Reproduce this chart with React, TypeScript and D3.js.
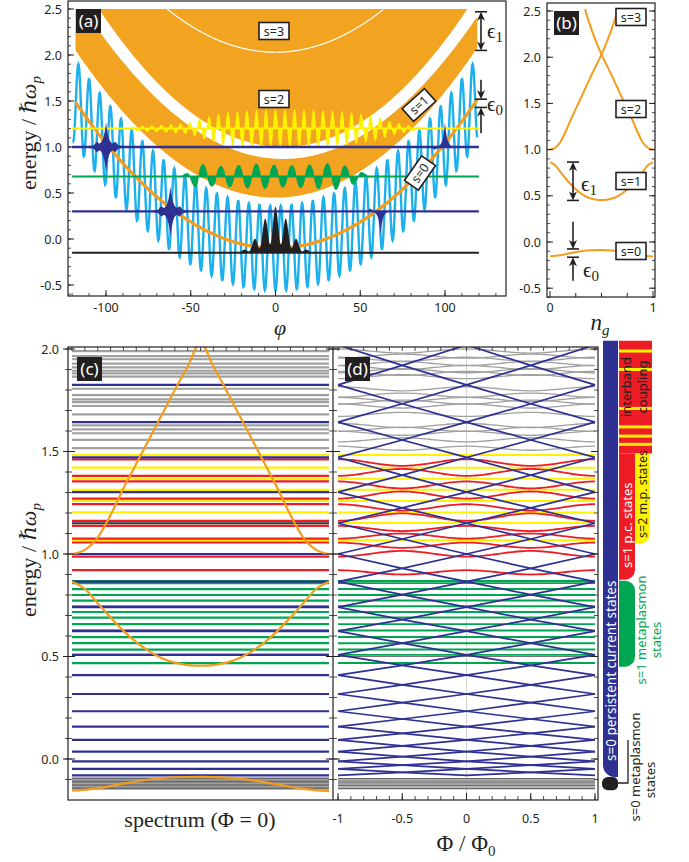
import React from 'react';
import * as d3 from 'd3';

const NAVY = '#2e3192';
const BAND = '#f2a31f';
const ORANGE = '#f39c1e';
const CYAN = '#1cb1ec';
const YELLOW = '#fff200';
const GREEN = '#00a651';
const RED = '#ee1d25';
const GRAY = '#a0a0a0';
const DARKGRAY = '#6a6a6a';
const INK = '#231f20';
const SERIF = "'Liberation Serif', 'DejaVu Serif', serif";
const SANS = "'Noto Sans', 'Open Sans', 'Liberation Sans', sans-serif";

// ---------- (a) potential landscape ----------
const phiTicks = [-100, -50, 0, 50, 100];
const energyTicksTop = [-0.5, 0, 0.5, 1, 1.5, 2, 2.5];
const parabola = { bottom: -0.1, curvature: 1.14e-4 };
const ripple = 0.46; // josephson ripple on top of the parabola
const bandBottoms = [0.45, 1.0, 2.03]; // s=1, s=2, s=3 at phi = 0
const bandCurvatures = [1.15e-4, 1.27e-4, 1.15e-4];
const s1Top = { value: 0.87, curvature: 1.18e-4 };
const gapCenter = 4.5;
const bandTop = 2.5;
const phiRange = [-118, 119];

const levelsTop = [
  { E: 1.2, color: YELLOW, w: 2 },
  { E: 0.68, color: GREEN, w: 2 },
  { E: -0.15, color: INK, w: 2 },
  { E: 0.3, color: NAVY, w: 2.4 },
  { E: 1.0, color: NAVY, w: 2.4 },
];
const groundPacket = { E: -0.15, amp: 0.5, width: 8 };
const packets = [
  { phi: -62, E: 0.3, amp: 0.26, shape: 'star' },
  { phi: 62, E: 0.3, amp: -0.25, shape: 'spike' },
  { phi: -100, E: 1.0, amp: 0.26, shape: 'star' },
  { phi: 100, E: 1.0, amp: 0.27, shape: 'spike' },
];
const greenEnvelope = [[-57, 0], [-52, 0.04], [-46, 0.15], [-38, 0.11], [-25, 0.12], [-10, 0.14], [5, 0.12], [20, 0.13], [35, 0.15], [45, 0.1], [52, 0.04], [57, 0]];
const yellowEnvelope = [[-90, 0], [-82, 0.03], [-65, 0.045], [-52, 0.06], [-42, 0.12], [-30, 0.18], [-10, 0.21], [15, 0.21], [40, 0.19], [58, 0.14], [68, 0.08], [80, 0.03], [90, 0.01], [95, 0]];

// ---------- (b) bands vs n_g ----------
const ngS0 = [[0, -0.155], [0.1, -0.143], [0.2, -0.12], [0.3, -0.1], [0.4, -0.089], [0.5, -0.087], [0.6, -0.091], [0.7, -0.104], [0.8, -0.124], [0.9, -0.146], [1, -0.157]];
const ngS1 = [[0, 0.865], [0.05, 0.83], [0.1, 0.76], [0.15, 0.69], [0.2, 0.625], [0.25, 0.57], [0.3, 0.525], [0.35, 0.492], [0.4, 0.47], [0.45, 0.458], [0.5, 0.455], [0.55, 0.458], [0.6, 0.47], [0.65, 0.492], [0.7, 0.525], [0.75, 0.57], [0.8, 0.625], [0.85, 0.69], [0.9, 0.76], [0.95, 0.83], [1, 0.865]];
const ngS2 = [[0, 1.0], [0.05, 1.02], [0.1, 1.08], [0.15, 1.19], [0.2, 1.32], [0.25, 1.44], [0.3, 1.56], [0.35, 1.68], [0.4, 1.8], [0.45, 1.915], [0.5, 2.03], [0.55, 2.16], [0.6, 2.31], [0.65, 2.48], [0.66, 2.52]];

// ---------- (c)/(d) spectrum ----------
const metaplasmonS0 = [-0.096, -0.104, -0.112, -0.12, -0.128, -0.136, -0.144];
// s=0 persistent current energies at |m + Phi| = 0, 0.5, 1, 1.5, ...
const persistentS0 = [
  -0.08, -0.065, -0.048, -0.03, -0.012, 0.012, 0.036, 0.064, 0.093, 0.125,
  0.158, 0.195, 0.233, 0.275, 0.317, 0.362, 0.409, 0.457, 0.508, 0.565,
  0.624, 0.68, 0.741, 0.802, 0.865, 0.93, 1.0, 1.073, 1.15, 1.225,
  1.302, 1.385, 1.471, 1.556, 1.643, 1.733, 1.825, 1.92, 2.02, 2.12,
];
const metaplasmonS1 = [0.468, 0.508, 0.534, 0.565, 0.595, 0.627, 0.658, 0.69, 0.717, 0.745, 0.773, 0.8, 0.829, 0.858, 0.868];
const pcS1AtZero = [0.921, 0.987, 1.056, 1.075, 1.137, 1.162, 1.243, 1.27, 1.354, 1.381, 1.462];
const pcS1AtHalf = [0.9, 1.015, 1.03, 1.1, 1.112, 1.198, 1.212, 1.305, 1.32, 1.415, 1.43];
const metaplasmonS2 = [1.067, 1.151, 1.203, 1.259, 1.313, 1.367, 1.421, 1.483];
const couplingLevels = [1.516, 1.557, 1.589, 1.608, 1.627, 1.681, 1.722, 1.741, 1.754, 1.775, 1.806, 1.865, 1.881, 1.894, 1.91, 1.929, 1.95, 1.965, 1.99];
const couplingStripes = [1.99, 1.9, 1.71, 1.62, 1.575, 1.535];
const spectrumTicks = [0, 0.5, 1, 1.5, 2];
const fluxTicks = [-1, -0.5, 0, 0.5, 1];

// scales
const xA = d3.scaleLinear().domain([-100, 100]).range([106, 445]);
const yA = d3.scaleLinear().domain([0, 2.5]).range([239, 9]);
const xB = d3.scaleLinear().domain([0, 1]).range([550, 653]);
const yB = d3.scaleLinear().domain([0, 2.5]).range([242, 11]);
const xC = d3.scaleLinear().domain([0, 1]).range([72, 329]);
const yC = d3.scaleLinear().domain([0, 2]).range([759, 349]);
const xD = d3.scaleLinear().domain([-1, 1]).range([338, 595]);

const fmt = (v: number) => (Number.isInteger(v) ? v.toFixed(1) : String(v));
const fmtX = (v: number) => String(v);
// fuller lobes for the filled wavefunctions
const lobe = (c: number) => Math.sign(c) * Math.pow(Math.abs(c), 0.6);

function barPath(x0: number, x1: number, y0: number, y1: number, r: number[]) {
  const [tl, tr, br, bl] = r;
  return `M${x0 + tl},${y0} H${x1 - tr} ${tr ? `A${tr},${tr} 0 0 1 ${x1},${y0 + tr}` : ''} V${y1 - br} ${br ? `A${br},${br} 0 0 1 ${x1 - br},${y1}` : ''} H${x0 + bl} ${bl ? `A${bl},${bl} 0 0 1 ${x0},${y1 - bl}` : ''} V${y0 + tl} ${tl ? `A${tl},${tl} 0 0 1 ${x0 + tl},${y0}` : ''} Z`;
}

const Arrow = ({ x, from, to }: { x: number; from: number; to: number }) => {
  const dir = Math.sign(to - from);
  return (
    <g>
      <line x1={x} x2={x} y1={from} y2={to - dir * 6} stroke={INK} strokeWidth={1.6} />
      <path d={`M${x - 4},${to - dir * 9} L${x},${to} L${x + 4},${to - dir * 9} L${x},${to - dir * 6.5} Z`} fill={INK} />
    </g>
  );
};
const Cap = ({ x, y }: { x: number; y: number }) => (
  <line x1={x - 6} x2={x + 6} y1={y} y2={y} stroke={INK} strokeWidth={1.6} />
);
const Eps = ({ x, y, sub }: { x: number; y: number; sub: string }) => (
  <text x={x} y={y} fontFamily={SERIF} fontSize={21} fill={INK}>
    ϵ<tspan fontSize={15} dy={4}>{sub}</tspan>
  </text>
);
const PanelTag = ({ x, y, label }: { x: number; y: number; label: string }) => (
  <g>
    <rect x={x} y={y} width={25} height={24} fill={INK} />
    <text x={x + 12.5} y={y + 17.5} textAnchor="middle" fontFamily={SANS} fontSize={17} fill="#fff">{label}</text>
  </g>
);
const BoxLabel = ({ x, y, label, rot = 0 }: { x: number; y: number; label: string; rot?: number }) => (
  <g transform={`translate(${x},${y}) rotate(${rot})`}>
    <rect x={-15} y={-8.5} width={30} height={17} fill="#fff" stroke={INK} strokeWidth={1.6} />
    <text x={0} y={4.5} textAnchor="middle" fontFamily={SANS} fontSize={12.5} fill={INK}>{label}</text>
  </g>
);

export default function App() {
  // ---- panel (a)
  const potential = (p: number) => parabola.bottom + parabola.curvature * p * p - ripple * Math.cos(p);
  const potentialPath = d3.line<number>().x((p) => xA(p)).y((p) => yA(potential(p)))(d3.range(-119.5, 119.01, 0.2));
  const bandGrid = d3.range(phiRange[0], phiRange[1] + 0.01, 0.5);
  const parabolaPath = d3.line<number>().x((p) => xA(p)).y((p) => yA(parabola.bottom + parabola.curvature * p * p))(bandGrid);
  const edge = (E0: number, k: number, c = 0) => (p: number) => Math.min(E0 + k * (p - c) * (p - c), bandTop);
  const s1Lower = edge(bandBottoms[0], bandCurvatures[0]);
  const s1Upper = edge(s1Top.value, s1Top.curvature, gapCenter);
  const s2Lower = edge(bandBottoms[1], bandCurvatures[1], gapCenter);
  const s1Band = d3.area<number>().x((p) => xA(p)).y0((p) => yA(s1Lower(p))).y1((p) => yA(s1Upper(p)))(bandGrid);
  const s2Band = d3.area<number>().x((p) => xA(p)).y0((p) => yA(s2Lower(p))).y1(yA(bandTop))(bandGrid);
  const s3Reach = Math.sqrt((bandTop - bandBottoms[2]) / bandCurvatures[2]);
  const s3Path = d3.line<number>().x((p) => xA(p)).y((p) => yA(bandBottoms[2] + bandCurvatures[2] * p * p))(d3.range(-s3Reach, s3Reach + 0.01, 0.5));

  const envScale = (pts: number[][]) => d3.scaleLinear().domain(pts.map((d) => d[0])).range(pts.map((d) => d[1])).clamp(true);
  const greenEnv = envScale(greenEnvelope);
  const yellowEnv = envScale(yellowEnvelope);
  const fillAbout = (E: number, psi: (p: number) => number, grid: number[]) =>
    d3.area<number>().x((p) => xA(p)).y0(yA(E)).y1((p) => yA(E + psi(p)))(grid);
  const greenFill = fillAbout(0.68, (p) => greenEnv(p) * lobe(Math.cos(0.6 * p + 0.5)), d3.range(-57, 57.01, 0.1));
  const yellowFill = fillAbout(1.2, (p) => yellowEnv(p) * lobe(Math.cos(1.12 * p)), d3.range(-90, 95.01, 0.1));
  const groundFill = fillAbout(groundPacket.E, (p) => groundPacket.amp * Math.exp(-(p * p) / (2 * groundPacket.width * groundPacket.width)) * (0.6 + 0.4 * Math.cos(p)), d3.range(-26, 26.01, 0.1));
  const packetPaths = packets.map((pk) => {
    const grid = d3.range(pk.phi - 10, pk.phi + 10.01, 0.05);
    if (pk.shape === 'star') {
      const e = (p: number) => {
        const d = Math.abs(p - pk.phi);
        return pk.amp * Math.exp(-d / 1.5) + 0.035 * Math.exp(-((d - 5.5) ** 2) / (2 * 0.9 * 0.9)) + 0.012;
      };
      return d3.area<number>().x((p) => xA(p)).y0((p) => yA(pk.E - e(p))).y1((p) => yA(pk.E + e(p)))(grid);
    }
    const s = (p: number) => {
      const d = p - pk.phi;
      return pk.amp * Math.exp(-Math.abs(d) / 1.2) - Math.sign(pk.amp) * 0.03 * Math.exp(-((d + 6) ** 2) / 2);
    };
    return fillAbout(pk.E, s, grid);
  });

  // ---- panel (b)
  const ngLine = (xs: any, ys: any) => d3.line<number[]>().x((d) => xs(d[0])).y((d) => ys(d[1])).curve(d3.curveMonotoneX);
  const mirror = (pts: number[][]) => pts.map((d) => [1 - d[0], d[1]]).reverse();

  // ---- panel (c)
  const s2Lower_c = [...ngS2.filter((d) => d[0] <= 0.5), ...mirror(ngS2).filter((d) => d[0] > 0.5)];
  const levelLine = (E: number) => `M${xC(0)},${yC(E)} H${xC(1)}`;
  const cLevels = [
    ...metaplasmonS0.map((E, i) => ({ E, color: i % 2 ? GRAY : DARKGRAY })),
    ...couplingLevels.map((E) => ({ E, color: GRAY })),
    ...metaplasmonS1.map((E) => ({ E, color: GREEN })),
    ...metaplasmonS2.map((E) => ({ E, color: YELLOW })),
    ...pcS1AtZero.map((E) => ({ E, color: RED })),
    ...persistentS0.filter((_, i) => i % 2 === 0).map((E) => ({ E, color: NAVY })),
  ];

  // ---- panel (d)
  const fluxGrid = d3.range(-1, 1.0001, 0.025);
  const fluxLine = d3.line<number[]>().x((d) => xD(d[0])).y((d) => yC(d[1]));
  const fluxSmooth = d3.line<number[]>().x((d) => xD(d[0])).y((d) => yC(d[1])).curve(d3.curveBasis);
  const knots = [-1, -0.5, 0, 0.5, 1];
  const blueLines = d3.range(-20, 21).map((m) =>
    knots
      .map((f) => {
        const idx = Math.round(2 * Math.abs(m + f));
        return idx < persistentS0.length ? [f, persistentS0[idx]] : null;
      })
      .filter((d) => d !== null) as number[][]
  ).filter((l) => l.length > 1);
  const redLines = pcS1AtZero.map((a, i) => {
    const b = pcS1AtHalf[i];
    return fluxGrid.map((f) => [f, (a + b) / 2 + ((a - b) / 2) * Math.cos(2 * Math.PI * f)]);
  });
  const grayLines = couplingLevels.map((g, i) => fluxGrid.map((f) => [f, g + (i % 2 ? -1 : 1) * 0.01 * Math.cos(2 * Math.PI * f)]));

  const minorE = d3.range(-0.1, 2.01, 0.1);
  const minorTop = d3.range(-0.6, 2.51, 0.1);

  return (
    <svg width={689} height={862} style={{ position: 'absolute', left: 0, top: 0, background: '#fff' }}>
      <defs>
        <clipPath id="clipA"><rect x={68} y={1} width={438} height={295} /></clipPath>
        <clipPath id="clipB"><rect x={547} y={3} width={108} height={294} /></clipPath>
        <clipPath id="clipC"><rect x={68} y={347} width={265} height={453} /></clipPath>
        <clipPath id="clipD"><rect x={333} y={347} width={265} height={453} /></clipPath>
      </defs>

      {/* ================= (a) ================= */}
      <g clipPath="url(#clipA)">
        <path d={s1Band!} fill={BAND} />
        <path d={s2Band!} fill={BAND} />
        <path d={s3Path!} fill="none" stroke="#fff" strokeWidth={1.2} />
        <path d={potentialPath!} fill="none" stroke={CYAN} strokeWidth={2.4} />
        <path d={parabolaPath!} fill="none" stroke={ORANGE} strokeWidth={3.2} />
        <path d={yellowFill!} fill={YELLOW} />
        <path d={greenFill!} fill={GREEN} />
        <path d={groundFill!} fill={INK} />
        {levelsTop.map((l, i) => (
          <line key={i} x1={xA(-120)} x2={xA(120)} y1={yA(l.E)} y2={yA(l.E)} stroke={l.color} strokeWidth={l.w} />
        ))}
        {packetPaths.map((d, i) => <path key={i} d={d!} fill={NAVY} />)}
      </g>
      <BoxLabel x={274} y={31} label="s=3" />
      <BoxLabel x={274} y={99} label="s=2" />
      <BoxLabel x={419} y={105} label="s=1" rot={-42} />
      <BoxLabel x={420} y={173} label="s=0" rot={-55} />
      <PanelTag x={76} y={9} label="(a)" />
      {/* epsilon markers (a) */}
      <Cap x={481} y={yA(2.47)} />
      <Cap x={481} y={yA(2.05)} />
      <Arrow x={481} from={(yA(2.47) + yA(2.05)) / 2} to={yA(2.47)} />
      <Arrow x={481} from={(yA(2.47) + yA(2.05)) / 2} to={yA(2.05)} />
      <Eps x={487} y={38} sub="1" />
      <Cap x={481} y={yA(1.52)} />
      <Cap x={481} y={yA(1.43)} />
      <Arrow x={481} from={yA(1.73)} to={yA(1.52)} />
      <Arrow x={481} from={yA(1.15)} to={yA(1.43)} />
      <Eps x={487} y={111} sub="0" />

      <rect x={68} y={1} width={438} height={295} fill="none" stroke={INK} strokeWidth={1.2} />
      {minorTop.map((v, i) => (
        <line key={'amy' + i} x1={68} x2={71} y1={yA(v)} y2={yA(v)} stroke={INK} strokeWidth={0.8} />
      ))}
      {energyTicksTop.map((v) => (
        <g key={'ay' + v}>
          <line x1={68} x2={74} y1={yA(v)} y2={yA(v)} stroke={INK} strokeWidth={1} />
          <text x={62} y={yA(v) + 4.5} textAnchor="end" fontFamily={SANS} fontSize={12.5} fill={INK}>{fmt(v)}</text>
        </g>
      ))}
      {d3.range(-120, 131, 10).map((v) => (
        <line key={'amx' + v} x1={xA(v)} x2={xA(v)} y1={296} y2={293} stroke={INK} strokeWidth={0.8} />
      ))}
      {phiTicks.map((v) => (
        <g key={'ax' + v}>
          <line x1={xA(v)} x2={xA(v)} y1={296} y2={290} stroke={INK} strokeWidth={1} />
          <text x={xA(v)} y={312} textAnchor="middle" fontFamily={SANS} fontSize={12.5} fill={INK}>{fmtX(v)}</text>
        </g>
      ))}
      <text transform="translate(36,133) rotate(-90)" textAnchor="middle" fontFamily={SERIF} fontSize={22} fill={INK}>
        energy / <tspan fontStyle="italic">ℏω</tspan><tspan fontStyle="italic" fontSize={15} dy={5}>p</tspan>
      </text>
      <text x={280} y={335} textAnchor="middle" fontFamily={SERIF} fontStyle="italic" fontSize={22} fill={INK}>φ</text>

      {/* ================= (b) ================= */}
      <g clipPath="url(#clipB)">
        {[ngS0, ngS1, ngS2, mirror(ngS2)].map((pts, i) => (
          <path key={i} d={ngLine(xB, yB)(pts)!} fill="none" stroke={ORANGE} strokeWidth={2} />
        ))}
      </g>
      <BoxLabel x={631} y={17} label="s=3" />
      <BoxLabel x={631} y={109} label="s=2" />
      <BoxLabel x={631} y={181} label="s=1" />
      <BoxLabel x={631} y={251} label="s=0" />
      <PanelTag x={554} y={11} label="(b)" />
      <Cap x={573} y={yB(0.865)} />
      <Cap x={573} y={yB(0.45)} />
      <Arrow x={573} from={(yB(0.865) + yB(0.45)) / 2} to={yB(0.865)} />
      <Arrow x={573} from={(yB(0.865) + yB(0.45)) / 2} to={yB(0.45)} />
      <Eps x={581} y={191} sub="1" />
      <Cap x={573} y={yB(-0.075)} />
      <Cap x={573} y={yB(-0.165)} />
      <Arrow x={573} from={yB(0.22)} to={yB(-0.075)} />
      <Arrow x={573} from={yB(-0.42)} to={yB(-0.165)} />
      <Eps x={583} y={277} sub="0" />
      <rect x={547} y={3} width={108} height={294} fill="none" stroke={INK} strokeWidth={1.2} />
      {minorTop.map((v, i) => (
        <g key={'bmy' + i}>
          <line x1={547} x2={550} y1={yB(v)} y2={yB(v)} stroke={INK} strokeWidth={0.8} />
          <line x1={655} x2={652} y1={yB(v)} y2={yB(v)} stroke={INK} strokeWidth={0.8} />
        </g>
      ))}
      {energyTicksTop.map((v) => (
        <g key={'by' + v}>
          <line x1={547} x2={553} y1={yB(v)} y2={yB(v)} stroke={INK} strokeWidth={1} />
          <line x1={655} x2={649} y1={yB(v)} y2={yB(v)} stroke={INK} strokeWidth={1} />
          <text x={541} y={yB(v) + 4.5} textAnchor="end" fontFamily={SANS} fontSize={12.5} fill={INK}>{fmt(v)}</text>
        </g>
      ))}
      {d3.range(0, 1.01, 0.25).map((v) => (
        <line key={'bx' + v} x1={xB(v)} x2={xB(v)} y1={297} y2={v % 1 === 0 ? 291 : 293} stroke={INK} strokeWidth={1} />
      ))}
      {[0, 1].map((v) => (
        <text key={'bxl' + v} x={xB(v)} y={312} textAnchor="middle" fontFamily={SANS} fontSize={12.5} fill={INK}>{v}</text>
      ))}
      <text x={600} y={330} textAnchor="middle" fontFamily={SERIF} fontSize={23} fill={INK}>
        <tspan fontStyle="italic">n</tspan><tspan fontStyle="italic" fontSize={15} dy={5}>g</tspan>
      </text>

      {/* ================= (c) ================= */}
      <g clipPath="url(#clipC)">
        {cLevels.map((l, i) => (
          <path key={i} d={levelLine(l.E)} stroke={l.color} strokeWidth={2.2} fill="none" />
        ))}
        {[ngS0, ngS1, s2Lower_c].map((pts, i) => (
          <path key={i} d={ngLine(xC, yC)(pts)!} fill="none" stroke={ORANGE} strokeWidth={2.2} />
        ))}
      </g>
      <PanelTag x={77} y={357} label="(c)" />

      {/* ================= (d) ================= */}
      <g clipPath="url(#clipD)">
        <line x1={xD(0)} x2={xD(0)} y1={347} y2={800} stroke="#c8c8c8" strokeWidth={0.8} />
        <line x1={333} x2={598} y1={yC(0.5)} y2={yC(0.5)} stroke="#555" strokeWidth={0.8} />
        {metaplasmonS0.map((E, i) => (
          <path key={'m0' + i} d={fluxLine([[-1, E], [1, E]])!} stroke={i % 2 ? GRAY : DARKGRAY} strokeWidth={1.4} fill="none" />
        ))}
        {grayLines.map((pts, i) => (
          <path key={'g' + i} d={fluxSmooth(pts)!} stroke={GRAY} strokeWidth={1.3} fill="none" />
        ))}
        {metaplasmonS1.map((E, i) => (
          <path key={'m1' + i} d={fluxLine([[-1, E], [1, E]])!} stroke={GREEN} strokeWidth={1.9} fill="none" />
        ))}
        {metaplasmonS2.map((E, i) => (
          <path key={'m2' + i} d={fluxLine([[-1, E], [1, E]])!} stroke={YELLOW} strokeWidth={2} fill="none" />
        ))}
        {redLines.map((pts, i) => (
          <path key={'r' + i} d={fluxSmooth(pts)!} stroke={RED} strokeWidth={1.8} fill="none" />
        ))}
        {blueLines.map((pts, i) => (
          <path key={'b' + i} d={fluxLine(pts)!} stroke={NAVY} strokeWidth={1.7} fill="none" />
        ))}
      </g>
      <PanelTag x={345} y={357} label="(d)" />

      {/* frames and ticks (c)/(d) */}
      <rect x={68} y={347} width={530} height={453} fill="none" stroke={INK} strokeWidth={1.2} />
      <line x1={333} x2={333} y1={347} y2={800} stroke={INK} strokeWidth={1.2} />
      {minorE.map((v, i) => (
        <g key={'cm' + i}>
          <line x1={65} x2={72} y1={yC(v)} y2={yC(v)} stroke={INK} strokeWidth={0.8} />
          <line x1={329} x2={337} y1={yC(v)} y2={yC(v)} stroke={INK} strokeWidth={0.8} />
          <line x1={598} x2={594} y1={yC(v)} y2={yC(v)} stroke={INK} strokeWidth={0.8} />
        </g>
      ))}
      {spectrumTicks.map((v) => (
        <g key={'cy' + v}>
          <line x1={63} x2={75} y1={yC(v)} y2={yC(v)} stroke={INK} strokeWidth={1} />
          <line x1={326} x2={340} y1={yC(v)} y2={yC(v)} stroke={INK} strokeWidth={1} />
          <line x1={598} x2={591} y1={yC(v)} y2={yC(v)} stroke={INK} strokeWidth={1} />
          <text x={59} y={yC(v) + 4.5} textAnchor="end" fontFamily={SANS} fontSize={12.5} fill={INK}>{v.toFixed(1)}</text>
        </g>
      ))}
      {d3.range(0, 1.001, 0.05).map((v, i) => (
        <line key={'ct' + i} x1={xC(v)} x2={xC(v)} y1={347} y2={351} stroke={INK} strokeWidth={0.8} />
      ))}
      {d3.range(-1, 1.001, 0.1).map((v, i) => (
        <g key={'dt' + i}>
          <line x1={xD(v)} x2={xD(v)} y1={347} y2={351} stroke={INK} strokeWidth={0.8} />
          <line x1={xD(v)} x2={xD(v)} y1={800} y2={796} stroke={INK} strokeWidth={0.8} />
        </g>
      ))}
      {fluxTicks.map((v) => (
        <g key={'dx' + v}>
          <line x1={xD(v)} x2={xD(v)} y1={800} y2={793} stroke={INK} strokeWidth={1} />
          <text x={xD(v)} y={823} textAnchor="middle" fontFamily={SANS} fontSize={12.5} fill={INK}>{fmtX(v)}</text>
        </g>
      ))}
      <text transform="translate(36,560) rotate(-90)" textAnchor="middle" fontFamily={SERIF} fontSize={22} fill={INK}>
        energy / <tspan fontStyle="italic">ℏω</tspan><tspan fontStyle="italic" fontSize={15} dy={5}>p</tspan>
      </text>
      <text x={200} y={827} textAnchor="middle" fontFamily={SERIF} fontSize={22} fill={INK}>spectrum (Φ = 0)</text>
      <text x={466} y={851} textAnchor="middle" fontFamily={SERIF} fontSize={23} fill={INK}>
        Φ / Φ<tspan fontSize={15} dy={5}>0</tspan>
      </text>

      {/* ================= legend bars ================= */}
      <path d={barPath(603, 618, yC(2.04), yC(-0.088), [0, 0, 0, 12])} fill={NAVY} />
      <path d={barPath(602, 618, yC(-0.088), yC(-0.152), [6, 5, 5, 6])} fill={INK} />
      <path d={barPath(619, 652, yC(2.04), yC(1.49), [0, 0, 0, 0])} fill={RED} />
      {couplingStripes.map((E, i) => (
        <rect key={'st' + i} x={619} y={yC(E) - 1.5} width={33} height={3} fill={YELLOW} />
      ))}
      <path d={barPath(635, 650, yC(1.49), yC(1.05), [0, 0, 10, 0])} fill={YELLOW} />
      <path d={barPath(619, 635, yC(1.49), yC(0.875), [0, 0, 10, 0])} fill={RED} />
      <path d={barPath(619, 635, yC(0.87), yC(0.45), [0, 10, 10, 0])} fill={GREEN} />
      <path d="M618,783 H628 V740" fill="none" stroke={INK} strokeWidth={1.3} />

      <text transform="translate(615.5,761) rotate(-90)" fontFamily={SANS} fontSize={13.5} fill="#fff">s=0 persistent current states</text>
      <text transform="translate(631.5,568) rotate(-90)" fontFamily={SANS} fontSize={13} fill="#fff">s=1 p.c. states</text>
      <text transform="translate(647,538) rotate(-90)" fontFamily={SANS} fontSize={12.5} fill={INK}>s=2 m.p. states</text>
      <text transform="translate(631,387) rotate(-90)" textAnchor="middle" fontFamily={SANS} fontSize={13} fill={INK}>interband</text>
      <text transform="translate(646.5,387) rotate(-90)" textAnchor="middle" fontFamily={SANS} fontSize={13} fill={INK}>coupling</text>
      <text transform="translate(646,630) rotate(-90)" textAnchor="middle" fontFamily={SANS} fontSize={13} fill={GREEN}>s=1 metaplasmon</text>
      <text transform="translate(661,640) rotate(-90)" textAnchor="middle" fontFamily={SANS} fontSize={13} fill={GREEN}>states</text>
      <text transform="translate(640,767) rotate(-90)" textAnchor="middle" fontFamily={SANS} fontSize={13} fill={INK}>s=0 metaplasmon</text>
      <text transform="translate(655,780) rotate(-90)" textAnchor="middle" fontFamily={SANS} fontSize={13} fill={INK}>states</text>
    </svg>
  );
}
